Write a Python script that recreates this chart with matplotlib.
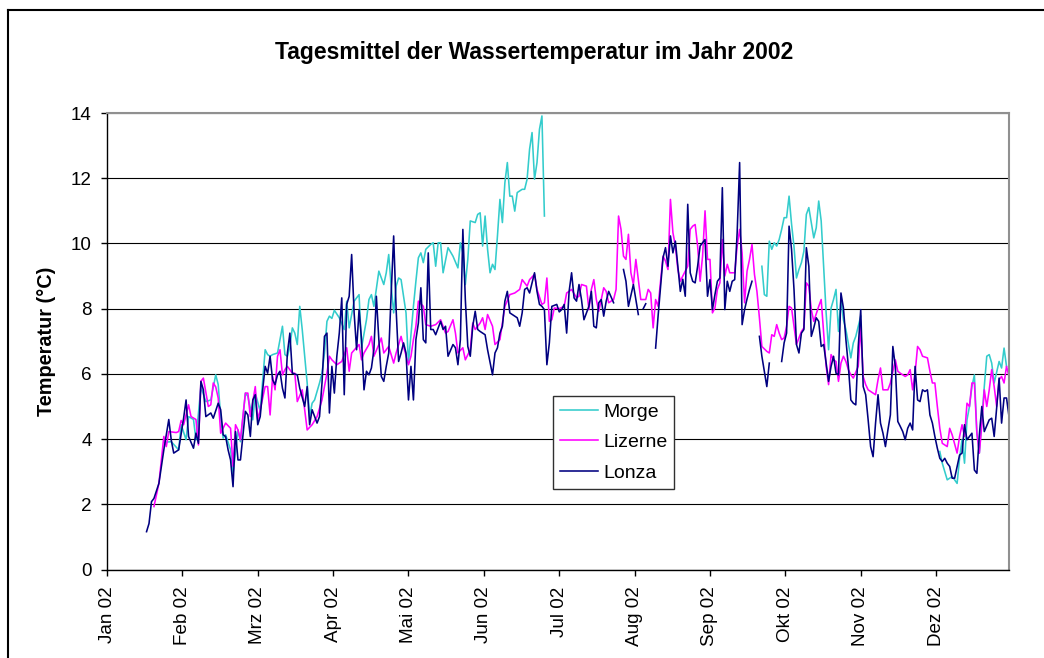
import numpy as np
import matplotlib.pyplot as plt
from matplotlib.lines import Line2D

plt.rcParams['font.family'] = ['Liberation Sans', 'DejaVu Sans']

# Monatsachse (Kategorienachse mit gleich breiten Monaten)
monate = ["Jan 02", "Feb 02", "Mrz 02", "Apr 02", "Mai 02", "Jun 02",
          "Jul 02", "Aug 02", "Sep 02", "Okt 02", "Nov 02", "Dez 02"]

# Tagesmittel (Tag im Jahr, Temperatur in °C); nan = Messlücke
morge_tag = [23, 26, 29, 30, 32, 33, 35, 36, 38, 40, 42, 44, 45, 46, 47, 48, 50, 51, 53, 54,
             56, 57, 59, 60, 62, 64, 65, 66, 67, 69, 71, 72, 73, 74, 75, 76, 77, 78, 79, 81,
             82, 83, 84, 86, 87, 88, 89, 90, 91, 92, 94, 96, 97, 98, 100, 102, 103, 105, 106, 107,
             108, 110, 112, 113, 114, 115, 116, 117, 118, 119, 121, 122, 124, 125, 126, 127, 128, 129, 131, 132,
             133, 134, 135, 136, 138, 140, 142, 143, 144, 145, 146, 147, 149, 150, 151, 152, 153, 154, 155, 156,
             157, 158, 159, 160, 161, 162, 163, 164, 165, 166, 168, 169, 170, 171, 172, 173, 174, 175, 176, 177,
             178,
             265, 266, 267, 268, 269, 270, 271, 272, 273, 274, 275, 276, 277, 278, 279, 280, 281, 282, 283, 284,
             285, 286, 287, 288, 289, 290, 291, 292, 293, 294, 295, 296, 297, 298, 299, 301, 302, 303, 304, 305,
             306,
             337, 338, 339, 340, 342, 343, 344, 345, 346, 347, 348, 349, 350, 351, 352, 353, 354, 355, 356, 357,
             358, 359, 361, 362, 363, 364]
morge_temp = [3.9, 3.92, 3.67, 4.44, 3.98, 4.69, 4.6, 3.98, 5.6, 5.15, 5.2, 5.97, 5.67, 4.69, 4.03, 4.13, 3.67, 2.95, 4.28, 3.92,
              5.41, 5.31, 4.59, 5.41, 4.85, 6.74, 6.59, 6.54, 6.59, 6.64, 7.46, 6.59, 6.54, 6.84, 7.41, 7.25, 6.9, 8.07, 7.36, 5.72,
              4.69, 5.1, 5.2, 5.72, 6.02, 6.64, 7.61, 7.77, 7.7, 7.95, 7.72, 7.36, 8.23, 7.41, 8.23, 8.43, 6.8, 7.66, 8.28, 8.43,
              8.07, 9.15, 8.74, 9.1, 9.66, 8.69, 7.87, 8.69, 8.94, 8.89, 7.87, 6.33, 8.07, 8.84, 9.56, 9.71, 9.41, 9.82, 9.97, 10.02,
              9.3, 10.02, 10.02, 9.1, 9.87, 9.61, 9.25, 10.02, 9.71, 8.74, 9.51, 10.69, 10.64, 10.89, 10.94, 9.92, 10.84, 9.82, 9.1, 9.36,
              9.2, 10.23, 11.35, 10.64, 11.86, 12.48, 11.45, 11.45, 10.99, 11.56, 11.66, 11.66, 11.97, 12.89, 13.4, 11.97, 12.48, 13.5, 13.91, 10.84,
              np.nan,
              9.3, 8.43, 8.38, 10.07, 9.82, 10.02, 9.92, 10.12, 10.43, 10.79, 10.79, 11.45, 10.6, 9.9, 8.94, 9.2, 9.41, 9.76, 10.89, 11.1,
              10.64, 10.17, 10.48, 11.3, 10.69, 9.3, 7.87, 6.74, 8.02, 8.28, 8.59, 7.3, 8.28, 7.66, 7.36, 6.49, 6.95, 7.15, 7.46, 7.77,
              np.nan,
              3.62, 3.26, 3.0, 2.75, 2.85, 2.75, 2.64, 3.41, 3.98, 3.26, 4.59, 5.0, 5.61, 5.97, 4.18, 3.57, 4.59, 5.61, 6.54, 6.59,
              6.33, 5.72, 6.38, 6.18, 6.79, 6.23]

lizerne_tag = [19, 21, 23, 24, 25, 28, 29, 30, 31, 33, 34, 36, 37, 38, 39, 41, 42, 43, 44, 45,
               46, 48, 50, 51, 52, 53, 54, 56, 57, 58, 60, 61, 62, 64, 65, 66, 67, 68, 69, 70,
               71, 72, 73, 75, 76, 77, 79, 80, 81, 83, 85, 87, 89, 90, 91, 93, 95, 97, 98, 99,
               102, 103, 104, 106, 107, 108, 110, 111, 112, 114, 116, 117, 119, 120, 122, 123, 124, 125, 126, 128,
               129, 131, 133, 135, 137, 138, 140, 141, 142, 144, 145, 147, 148, 149, 151, 152, 153, 154, 156, 157,
               159, 161, 163, 165, 167, 168, 170, 171, 173, 174, 176, 177, 178, 179, 180, 181, 183, 185, 186, 187,
               188, 190, 191, 192, 194, 195, 196, 197, 198, 199, 200, 201, 202, 203, 205, 206, 207, 208, 209, 210,
               211, 212, 213, 214, 215, 216, 218, 219, 220, 221, 222, 223, 225, 226, 227, 228, 229, 230, 231, 232,
               233, 235, 236, 237, 238, 239, 240, 241, 242, 243, 244, 245, 246, 247, 248, 249, 250, 251, 252, 254,
               255, 256, 257, 258, 259, 260, 261, 262, 263, 264, 265, 267, 268, 269, 270, 271, 272, 273, 274, 275,
               276, 277, 278, 279, 281, 282, 283, 284, 285, 286, 288, 289, 290, 291, 292, 293, 294, 295, 296, 297,
               298, 299, 300, 301, 302, 304, 305, 306, 307, 308, 310, 311, 312, 313, 314, 316, 317, 319, 320, 321,
               323, 324, 325, 326, 327, 328, 329, 330, 332, 333, 334, 335, 336, 337, 338, 339, 340, 341, 342, 344,
               345, 346, 347, 348, 349, 350, 351, 352, 353, 354, 355, 356, 357, 358, 359, 360, 361, 362, 363, 364,
               365]
lizerne_temp = [1.93, 2.64, 4.08, 3.77, 4.23, 4.2, 4.23, 4.57, 4.44, 5.05, 4.69, 4.6, 3.82, 5.77, 5.87, 5.0, 5.05, 5.72, 5.6, 5.26,
                4.18, 4.49, 4.33, 3.16, 4.44, 4.28, 3.98, 5.41, 5.41, 4.69, 5.61, 4.59, 4.9, 5.61, 5.61, 4.74, 5.92, 5.51, 6.54, 6.74,
                5.97, 6.13, 6.23, 6.02, 6.02, 5.15, 5.51, 4.9, 4.28, 4.44, 4.69, 5.2, 6.02, 6.54, 6.43, 6.28, 6.38, 6.8, 6.08, 6.64,
                6.9, 6.43, 6.64, 6.9, 7.15, 6.54, 6.9, 7.1, 6.64, 6.84, 6.33, 6.64, 7.15, 6.84, 6.28, 6.54, 7.05, 7.46, 8.23, 8.07,
                7.51, 7.46, 7.51, 7.66, 7.25, 7.3, 7.66, 7.25, 6.64, 6.8, 6.43, 6.74, 7.56, 7.36, 7.56, 7.72, 7.36, 7.82, 7.46, 6.9,
                7.05, 8.07, 8.43, 8.48, 8.59, 8.89, 8.69, 8.89, 9.05, 8.59, 8.13, 8.18, 8.94, 7.61, 7.66, 8.02, 8.0, 8.07, 8.48, 8.53,
                8.59, 8.33, 8.38, 8.74, 8.69, 7.97, 8.59, 8.89, 8.28, 7.92, 8.28, 8.64, 8.53, 8.18, 8.28, 8.59, 10.84, 10.43, 9.61, 9.51,
                10.28, 9.1, 8.74, 9.51, 8.89, 8.28, 8.28, 8.59, 8.48, 7.41, 8.28, 8.07, 9.61, 9.46, 9.2, 11.35, 10.33, 9.92, 9.2, 8.84,
                9.0, 9.3, 10.43, 10.53, 10.58, 9.92, 8.84, 9.61, 11.0, 9.51, 9.51, 7.87, 8.02, 8.59, 8.79, 10.12, 9.0, 9.36, 9.1, 9.1,
                9.92, 10.43, 9.71, 8.18, 9.15, 9.51, 9.97, 9.05, 8.53, 7.72, 6.84, 6.69, 6.64, 7.2, 7.15, 7.51, 7.25, 7.05, 7.1, 7.46,
                8.07, 8.02, 7.46, 6.9, 7.3, 7.41, 8.79, 8.69, 7.97, 7.61, 8.07, 8.28, 7.25, 6.23, 5.67, 6.59, 6.43, 6.38, 5.77, 6.33,
                6.54, 6.38, 6.13, 5.97, 5.87, 6.23, 7.46, 5.92, 5.67, 5.51, 5.41, 5.36, 5.82, 6.18, 5.51, 5.51, 5.72, 6.43, 6.08, 6.02,
                5.92, 5.97, 6.13, 5.51, 6.02, 6.84, 6.74, 6.54, 6.49, 6.08, 5.72, 5.72, 5.0, 4.33, 3.87, 3.82, 3.77, 4.33, 4.13, 3.57,
                4.08, 4.44, 4.08, 5.1, 5.0, 5.72, 5.72, 4.18, 3.57, 4.44, 5.51, 5.0, 5.51, 6.13, 5.61, 5.0, 5.82, 5.92, 5.72, 6.23,
                5.92]

lonza_tag = [16, 17, 18, 19, 21, 22, 23, 25, 26, 27, 29, 31, 32, 33, 35, 36, 37, 38, 39, 40,
             42, 43, 45, 46, 47, 48, 49, 50, 51, 52, 53, 54, 56, 57, 58, 59, 60, 61, 62, 63,
             64, 65, 66, 67, 68, 69, 70, 71, 72, 73, 74, 75, 77, 78, 80, 81, 82, 83, 85, 86,
             87, 88, 89, 90, 91, 92, 93, 94, 95, 96, 97, 98, 99, 100, 101, 102, 103, 104, 105, 106,
             107, 108, 109, 110, 111, 112, 113, 114, 115, 116, 117, 118, 119, 120, 121, 122, 123, 124, 125, 126,
             127, 128, 129, 130, 131, 132, 133, 135, 136, 137, 138, 140, 141, 142, 143, 144, 145, 146, 147, 148,
             149, 150, 151, 153, 154, 156, 157, 158, 159, 160, 161, 162, 163, 164, 166, 167, 168, 169, 170, 171,
             173, 174, 175, 176, 177, 178, 179, 180, 182, 183, 184, 185, 186, 187, 188, 189, 190, 191, 192, 193,
             195, 196, 197, 198, 199, 200, 201, 202, 203, 205, 206, 209, 210, 211, 213, 214, 215, 216, 217, 218,
             219, 222, 223, 225, 226, 227, 228, 229, 230, 231, 232, 233, 234, 235, 236, 237, 238, 239, 240, 241,
             242, 243, 244, 245, 246, 247, 248, 249, 250, 251, 252, 253, 254, 255, 256, 257, 258, 259, 260, 261,
             262, 264, 265, 266, 267, 268, 269, 273, 274, 275, 276, 277, 278, 279, 280, 281, 282, 283, 284, 285,
             286, 287, 288, 289, 290, 291, 292, 293, 294, 295, 296, 297, 298, 299, 300, 301, 302, 303, 304, 305,
             306, 307, 308, 309, 310, 311, 312, 313, 314, 315, 316, 317, 318, 319, 320, 321, 322, 323, 324, 325,
             326, 327, 328, 329, 330, 331, 332, 333, 334, 335, 336, 337, 338, 339, 340, 341, 342, 343, 344, 345,
             346, 347, 348, 349, 350, 351, 352, 353, 354, 355, 357, 358, 359, 360, 361, 362, 363, 364, 365]
lonza_temp = [1.16, 1.41, 2.08, 2.18, 2.64, 3.15, 3.67, 4.6, 3.97, 3.57, 3.67, 4.64, 5.2, 4.08, 3.72, 4.18, 3.87, 5.77, 5.51, 4.69,
              4.8, 4.64, 5.1, 4.9, 4.13, 4.08, 3.67, 3.36, 2.54, 4.23, 3.36, 3.36, 4.85, 4.74, 4.08, 5.2, 5.36, 4.44, 4.69, 5.51,
              6.23, 6.02, 6.54, 5.82, 5.67, 5.97, 6.08, 5.56, 5.26, 6.64, 7.25, 6.02, 5.97, 5.56, 5.0, 5.61, 4.44, 4.9, 4.49, 4.69,
              5.72, 7.15, 7.25, 4.8, 6.23, 5.41, 6.54, 7.25, 8.33, 5.36, 8.13, 8.38, 9.66, 7.87, 6.74, 7.97, 7.05, 5.51, 6.08, 5.97,
              6.18, 6.74, 8.38, 7.05, 5.92, 5.77, 6.23, 6.64, 8.48, 10.23, 7.97, 6.38, 6.64, 6.95, 6.64, 5.2, 6.23, 5.2, 7.05, 7.56,
              8.64, 7.05, 6.95, 9.71, 7.36, 7.36, 7.2, 7.61, 7.36, 7.46, 6.54, 6.9, 6.8, 6.28, 7.05, 10.43, 8.28, 6.84, 6.54, 7.46,
              7.92, 7.36, 7.3, 7.2, 6.74, 5.97, 6.64, 6.8, 7.25, 7.46, 8.23, 8.53, 7.87, 7.82, 7.72, 7.46, 7.87, 8.59, 8.64, 8.48,
              9.1, 8.53, 8.13, 8.07, 7.97, 6.28, 6.95, 8.07, 8.13, 7.9, 7.97, 8.13, 7.25, 8.53, 9.1, 8.33, 8.23, 8.74, 8.28, 7.66,
              8.07, 8.53, 7.46, 7.41, 8.18, 8.28, 7.77, 8.23, 8.53, 8.18, np.nan, 9.2, 8.84, 8.07, 8.74, 8.28, 7.82, np.nan, 8.0, 8.15,
              np.nan, 6.79, 7.77, 9.56, 9.87, 9.3, 10.23, 9.71, 10.07, 9.3, 8.53, 8.9, 8.38, 11.2, 9.1, 8.84, 8.79, 9.3, 9.92, 10.02,
              10.12, 8.38, 8.89, 7.97, 8.43, 8.84, 8.94, 11.71, 7.97, 8.84, 8.53, 8.84, 8.89, 10.33, 12.48, 7.51, 7.97, 8.3, 8.59, 8.84,
              np.nan, 7.15, 6.54, 6.08, 5.61, 6.33, np.nan, 6.38, 6.95, 7.25, 10.53, 9.82, 8.59, 6.9, 6.64, 7.25, 7.36, 9.87, 9.3, 7.15,
              7.41, 7.72, 7.61, 6.84, 6.9, 6.33, 5.77, 6.23, 6.54, 6.02, 5.97, 8.48, 8.02, 7.05, 6.23, 5.2, 5.1, 5.05, 6.84, 7.97,
              5.61, 5.36, 4.59, 3.77, 3.46, 4.49, 5.36, 4.49, 4.18, 3.77, 4.28, 4.74, 6.84, 6.23, 4.54, 4.39, 4.23, 3.98, 4.33, 4.49,
              4.28, 6.23, 5.2, 5.15, 5.51, 5.46, 5.51, 4.74, 4.49, 4.08, 3.72, 3.41, 3.31, 3.41, 3.26, 3.16, 2.8, 2.8, 3.16, 3.51,
              3.57, 4.44, 3.98, 4.08, 4.18, 3.05, 2.95, 4.13, 5.0, 4.23, 4.59, 4.64, 4.08, 4.95, 5.87, 4.49, 5.26, 5.26, 4.69]

reihen = [("Morge", morge_tag, morge_temp, "#33CCCC"),
          ("Lizerne", lizerne_tag, lizerne_temp, "#FF00FF"),
          ("Lonza", lonza_tag, lonza_temp, "#000080")]

fig = plt.figure(figsize=(10.44, 6.58), dpi=100)
ax = fig.add_axes([107 / 1044, 1 - 569.5 / 658, 902 / 1044, 456.5 / 658])

for name, tag, temp, farbe in reihen:
    ax.plot(tag, temp, color=farbe, lw=1.15, label=name)

ax.set_xlim(0, 365)
ax.set_ylim(0, 14)
ax.set_yticks(range(0, 15, 2))
ax.set_xticks([k * 30.5 for k in range(len(monate))])
ax.set_xticklabels(monate, rotation=90, fontsize=13.6)
ax.tick_params(axis='x', direction='out', length=4, width=1, pad=8)
ax.tick_params(axis='y', direction='out', length=4, width=1, pad=7, labelsize=13.6)

ax.grid(axis='y', color='black', lw=0.8)
ax.set_axisbelow(True)
for s in ('top', 'right'):
    ax.spines[s].set_color('#909090')
    ax.spines[s].set_linewidth(1.5)
for s in ('left', 'bottom'):
    ax.spines[s].set_color('black')
    ax.spines[s].set_linewidth(1.0)

ax.set_ylabel("Temperatur (°C)", fontsize=14.3, fontweight='bold')
ax.yaxis.set_label_coords(-0.057, 0.5)

fig.text(0.512, 1 - 52 / 658, "Tagesmittel der Wassertemperatur im Jahr 2002",
         ha='center', va='center', fontsize=16.5, fontweight='bold')

leg = ax.legend(loc='upper left', bbox_to_anchor=(0.4945, 0.38), borderaxespad=0,
                fontsize=14, handlelength=1.95, handletextpad=0.26, labelspacing=0.67,
                borderpad=0.36, fancybox=False, framealpha=1, edgecolor='#303030')
leg.get_frame().set_linewidth(1.0)

# Rahmen des Diagrammbereichs
fig.add_artist(Line2D([8 / 1044, 1], [1 - 10 / 658, 1 - 10 / 658], color='black', lw=1.5))
fig.add_artist(Line2D([8 / 1044, 8 / 1044], [0, 1 - 10 / 658], color='black', lw=1.5))

fig.savefig("out.png", dpi=100)
